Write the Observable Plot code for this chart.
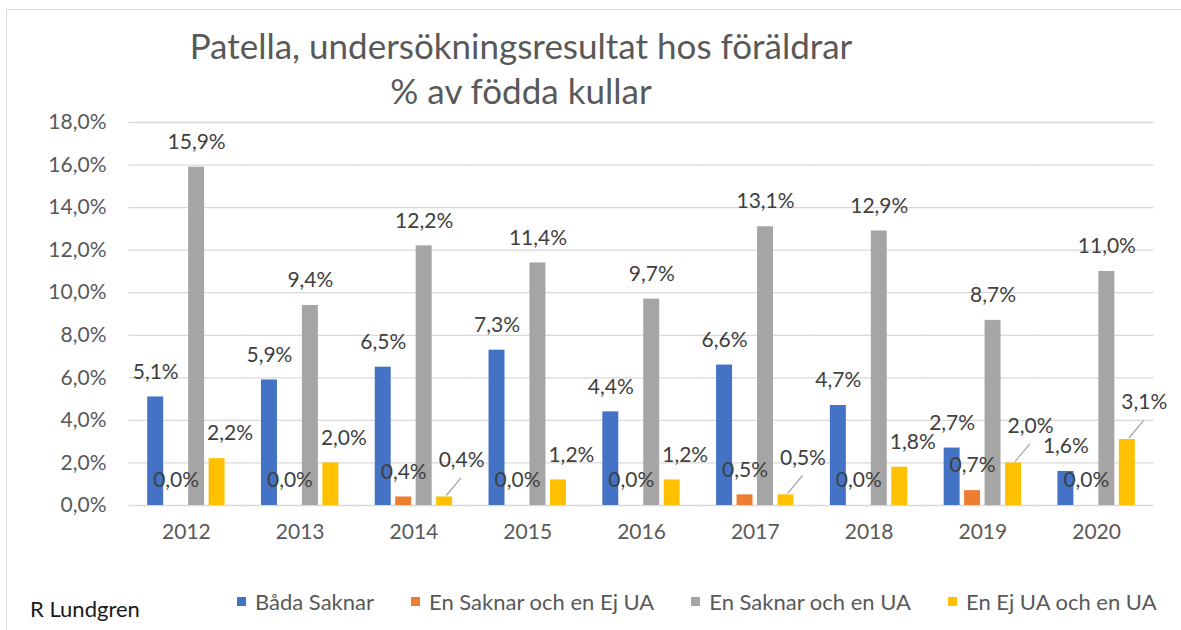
<!DOCTYPE html>
<html>
<head>
<meta charset="utf-8">
<script src="https://cdn.jsdelivr.net/npm/d3@7"></script>
<script src="https://cdn.jsdelivr.net/npm/@observablehq/plot@0.6"></script>
<style>
  body { margin: 0; background: #fff; }
  #wrap { position: relative; width: 1181px; height: 630px; overflow: hidden; font-family: Lato, "Noto Sans", sans-serif; background: #fff; }
  #frame { position: absolute; left: 6px; top: 9px; width: 1300px; height: 800px; border: 1px solid #d9d9d9; box-sizing: border-box; }
  .title { position: absolute; left: 0; width: 1042px; text-align: center; color: #595959; font-size: 35px; line-height: 1; white-space: nowrap; }
  #chart { position: absolute; left: 0; top: 100px; }
  #legend { position: absolute; top: 589px; left: 237px; display: flex; align-items: center; height: 24px; color: #595959; font-size: 22px; white-space: nowrap; }
  .item { display: flex; align-items: center; margin-right: 37px; }
  .sw { width: 9px; height: 9px; margin-right: 9px; }
  #caption { position: absolute; left: 30px; top: 595px; font-size: 22px; color: #1a1a1a; }
</style>
</head>
<body>
<div id="wrap">
  <div id="frame"></div>
  <div class="title" style="top:28px">Patella, undersökningsresultat hos föräldrar</div>
  <div class="title" style="top:73px">% av födda kullar</div>
  <div id="chart"></div>
  <div id="legend"></div>
  <div id="caption">R Lundgren</div>
</div>
<script>
const years = ["2012", "2013", "2014", "2015", "2016", "2017", "2018", "2019", "2020"];
const series = ["Båda Saknar", "En Saknar och en Ej UA", "En Saknar och en UA", "En Ej UA och en UA"];
const colors = ["#4472C4", "#ED7D31", "#A5A5A5", "#FFC000"];
const bothMissing      = [5.1, 5.9, 6.5, 7.3, 4.4, 6.6, 4.7, 2.7, 1.6];
const missingAndNotOK  = [0.0, 0.0, 0.4, 0.0, 0.0, 0.5, 0.0, 0.7, 0.0];
const missingAndOK     = [15.9, 9.4, 12.2, 11.4, 9.7, 13.1, 12.9, 8.7, 11.0];
const notOKAndOK       = [2.2, 2.0, 0.4, 1.2, 1.2, 0.5, 1.8, 2.0, 3.1];
const yTicks = [0, 2, 4, 6, 8, 10, 12, 14, 16, 18];
const leaderYears = ["2014", "2017", "2019", "2020"];

const values = [bothMissing, missingAndNotOK, missingAndOK, notOKAndOK];
const data = years.flatMap((year, i) => series.map((s, j) => ({year, series: s, value: values[j][i]})));
const fmt = v => v.toFixed(1).replace(".", ",") + "%";
const yellow = series[3];
const others = data.filter(d => d.series !== yellow);
const yellowPlain = data.filter(d => d.series === yellow && !leaderYears.includes(d.year));
const yellowLeader = data.filter(d => d.series === yellow && leaderYears.includes(d.year));

const lineShape = { draw(context, l) { context.moveTo(0, 0); context.lineTo(0, -l); } };
const labelFill = "#404040";
const fs = 21;

// layout of the band scales
const plotLeft = 129, plotRight = 28, W = 1181;
const fxPadInner = 0.32, fxPadOuter = 0.16;
const fxStep = (W - plotLeft - plotRight) / (years.length - fxPadInner + 2 * fxPadOuter);
const gapHalf = fxStep * fxPadInner / 2; // half gap between facet bands

const chart = Plot.plot({
  width: W,
  height: 450,
  marginTop: 22,
  marginBottom: 45,
  marginLeft: plotLeft,
  marginRight: plotRight,
  style: { fontFamily: "Lato, 'Noto Sans', sans-serif", fontSize: "21px", color: "#595959", background: "transparent", overflow: "visible" },
  fx: { domain: years, paddingInner: fxPadInner, paddingOuter: fxPadOuter, round: false, label: null, tickSize: 0, tickPadding: 19, axis: "bottom" },
  x: { domain: series, paddingInner: 0.22, paddingOuter: 0, round: false, axis: null },
  y: { domain: [0, 18], axis: null },
  color: { domain: series, range: colors },
  marks: [
    Plot.ruleY(yTicks, { y: d => d, stroke: "#d9d9d9", strokeWidth: 1.3, insetLeft: -gapHalf - 0.5, insetRight: -gapHalf - 0.5 }),
    Plot.text(yTicks, { fx: () => years[0], y: d => d, text: d => fmt(d), frameAnchor: "left", textAnchor: "end", dx: -23 - gapHalf, fill: "#595959", fontSize: fs }),
    Plot.barY(data, { fx: "year", x: "series", y: "value", fill: "series" }),
    Plot.text(others, { fx: "year", x: "series", y: "value", text: d => fmt(d.value), dy: -25, fill: labelFill, fontSize: fs }),
    Plot.text(yellowPlain, { fx: "year", x: "series", y: "value", text: d => fmt(d.value), dx: 13, dy: -25, fill: labelFill, fontSize: fs }),
    Plot.vector(yellowLeader, { fx: "year", x: "series", y: "value", dx: 2, dy: -2, anchor: "start", length: 22, rotate: 40, stroke: "#a6a6a6", strokeWidth: 1.3, shape: lineShape }),
    Plot.text(yellowLeader, { fx: "year", x: "series", y: "value", text: d => fmt(d.value), dx: 17, dy: -37, fill: labelFill, fontSize: fs })
  ]
});
document.getElementById("chart").appendChild(chart);

const legend = document.getElementById("legend");
series.forEach((s, i) => {
  const item = document.createElement("div");
  item.className = "item";
  const sw = document.createElement("span");
  sw.className = "sw";
  sw.style.background = colors[i];
  const t = document.createElement("span");
  t.textContent = s;
  item.appendChild(sw);
  item.appendChild(t);
  legend.appendChild(item);
});
</script>
</body>
</html>
